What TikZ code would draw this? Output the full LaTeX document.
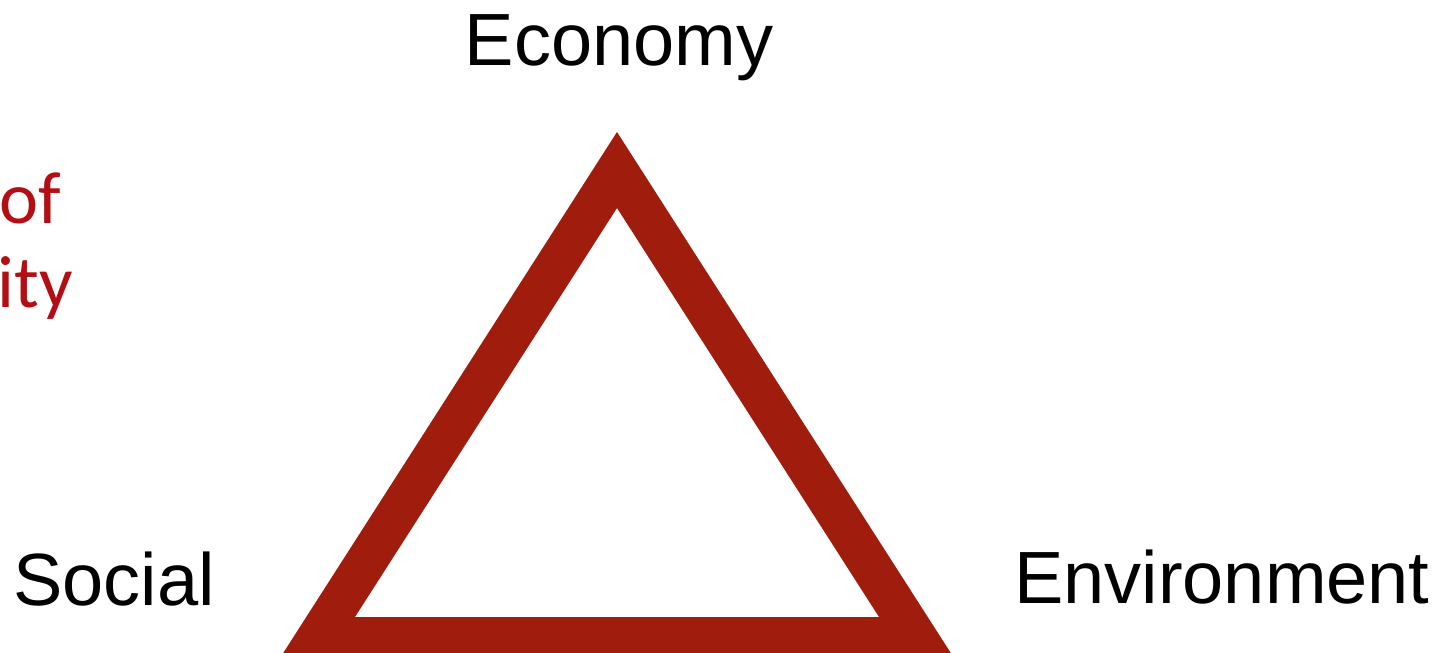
\documentclass[tikz,border=0pt]{standalone}
\usepackage{fontspec}
\setmainfont{Liberation Sans}
\newfontfamily\redfont{Carlito}
\definecolor{trired}{RGB}{160,28,12}
\definecolor{titlered}{RGB}{178,14,20}
\begin{document}
\begin{tikzpicture}[x=1pt,y=-1pt,
  lbl/.style={inner sep=0pt,font=\fontsize{74}{80}\selectfont,text=black},
  partial/.style={inner sep=0pt,anchor=base east,font=\redfont\fontsize{74}{80}\selectfont,text=titlered}]
\useasboundingbox (0,0) rectangle (1441,653);
\begin{scope}
\clip (0,0) rectangle (1441,653);
\fill[trired,even odd rule]
  (617,132) -- (954,658) -- (280,658) -- cycle
  (617,208) -- (879,617) -- (355,617) -- cycle;
\end{scope}
\node[lbl,anchor=base] (eco) at (619,65) {Economy};
\node[lbl,anchor=base west] (soc) at (13,605) {Social};
\node[lbl,anchor=base west] (env) at (1014,603) {Environment};
\node[partial] (of) at (61,223) {of};
\node[partial] (ity) at (73,307) {ity};
\end{tikzpicture}
\end{document}
